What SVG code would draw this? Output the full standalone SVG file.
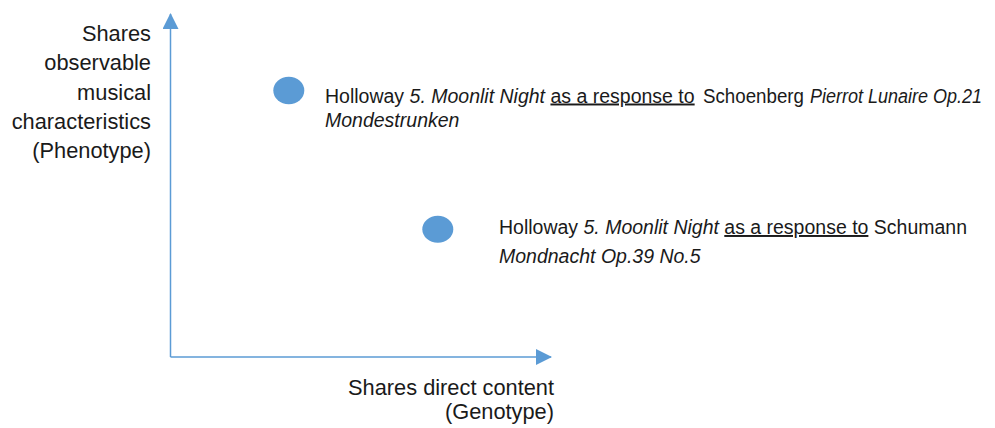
<svg xmlns="http://www.w3.org/2000/svg" width="995" height="428" viewBox="0 0 995 428">
<style>
  .t { font-family: "Liberation Sans", Arial, sans-serif; fill: #1a1a1a; }
  .ax { font-size: 21.8px; text-anchor: end; }
  .lb { font-size: 19.5px; }
  .i { font-style: italic; }
  .u { text-decoration: underline; }
  .axis { stroke: #5B9BD5; stroke-width: 1.5; fill: none; }
  .dot { fill: #5B9BD5; }
</style>
<defs>
  <marker id="arr" viewBox="0 0 16 16" refX="15" refY="8" markerWidth="16" markerHeight="16" markerUnits="userSpaceOnUse" orient="auto">
    <path d="M0,0 L16,8 L0,16 Z" fill="#5B9BD5"/>
  </marker>
</defs>
<g id="connectors">
  <path class="axis" d="M170.5,357 L170.5,14" marker-end="url(#arr)"/>
  <path class="axis" d="M170.5,357 L551,357" marker-end="url(#arr)"/>
</g>
<g id="y-axis-label">
  <text class="t ax" x="151" y="41">Shares</text>
  <text class="t ax" x="151" y="70">observable</text>
  <text class="t ax" x="151" y="100">musical</text>
  <text class="t ax" x="151" y="129">characteristics</text>
  <text class="t ax" x="151" y="158">(Phenotype)</text>
</g>
<g id="x-axis-label">
  <text class="t ax" x="554" y="395">Shares direct content</text>
  <text class="t ax" x="554" y="419">(Genotype)</text>
</g>
<g id="point-schoenberg">
  <ellipse class="dot" cx="288.8" cy="90.5" rx="15.5" ry="13.8"/>
  <text class="t lb" x="325" y="102.5">Holloway <tspan class="i">5. Moonlit Night</tspan> <tspan class="u">as a response to</tspan> <tspan x="703" textLength="101" lengthAdjust="spacingAndGlyphs">Schoenberg</tspan> <tspan class="i" x="810" textLength="172" lengthAdjust="spacingAndGlyphs">Pierrot Lunaire Op.21</tspan></text>
  <text class="t lb i" x="325" y="126.5">Mondestrunken</text>
</g>
<g id="point-schumann">
  <ellipse class="dot" cx="437.8" cy="229.2" rx="15.5" ry="13.5"/>
  <text class="t lb" x="499" y="234" textLength="468" lengthAdjust="spacingAndGlyphs">Holloway <tspan class="i">5. Moonlit Night</tspan> <tspan class="u">as a response to</tspan> Schumann</text>
  <text class="t lb i" x="499" y="263">Mondnacht Op.39 No.5</text>
</g>
</svg>
